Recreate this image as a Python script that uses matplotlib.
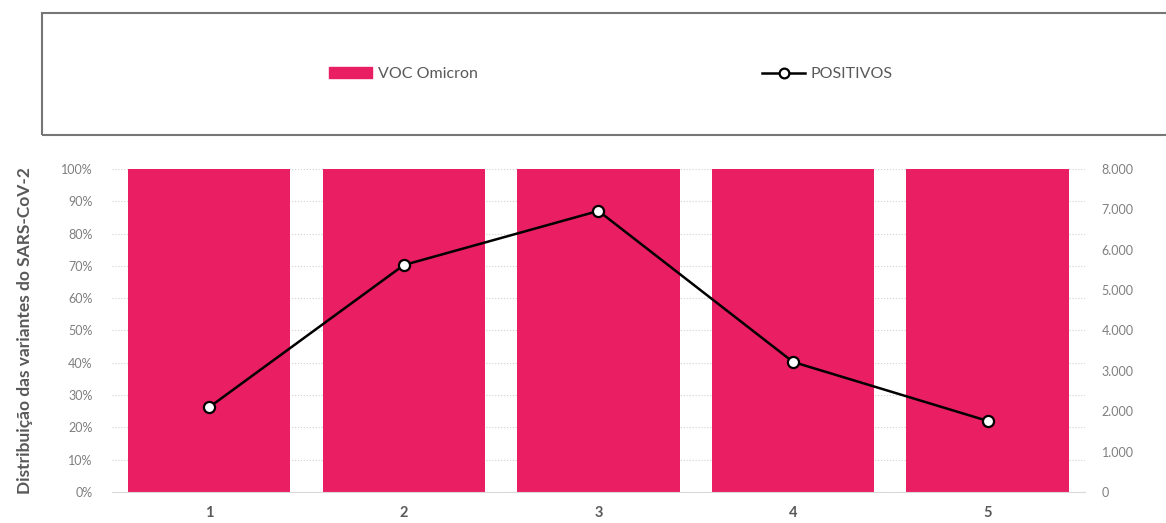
import matplotlib.pyplot as plt
from matplotlib.patches import Rectangle
from matplotlib.lines import Line2D
from matplotlib.ticker import FuncFormatter

plt.rcParams['font.family'] = ['Lato', 'DejaVu Sans']

# data
categories = ["1", "2", "3", "4", "5"]
omicron_pct = [100, 100, 100, 100, 100]
positivos = [2100, 5620, 6960, 3220, 1760]

bar_color = "#E91E63"
txt_grey = "#595959"
tick_grey = "#7f7f7f"

fig = plt.figure(figsize=(11.66, 5.23), dpi=100)
ax = fig.add_axes([0.096, 0.0593, 0.8345, 0.6177])
x = range(len(categories))

ax.bar(x, omicron_pct, width=0.835, color=bar_color, zorder=2)
ax.set_ylim(0, 100)
ax.set_xlim(-0.5, len(categories) - 0.5)
ax.set_yticks(range(0, 101, 10))
ax.yaxis.set_major_formatter(FuncFormatter(lambda v, p: f"{int(v)}%"))
ax.grid(axis="y", color="#d0d0d0", ls=":", lw=0.8, zorder=0)
ax.set_xticks(list(x))
ax.set_xticklabels(categories, fontweight="bold", color=txt_grey, fontsize=10.5)
ax.tick_params(axis="y", length=0, labelsize=9, labelcolor=tick_grey, pad=14)
ax.tick_params(axis="x", length=0, pad=10)
for s in ["top", "right", "left"]:
    ax.spines[s].set_visible(False)
ax.spines["bottom"].set_color("#d9d9d9")
ax.set_ylabel("Distribuição das variantes do SARS-CoV-2", fontsize=12.5,
              fontweight="bold", color=txt_grey, labelpad=20)

ax2 = ax.twinx()
ax2.plot(x, positivos, color="black", lw=1.8, marker="o", markersize=8,
         markerfacecolor="white", markeredgecolor="black", markeredgewidth=1.6, zorder=5)
ax2.set_ylim(0, 8000)
ax2.set_yticks(range(0, 8001, 1000))
ax2.yaxis.set_major_formatter(FuncFormatter(lambda v, p: f"{int(v):,}".replace(",", ".")))
ax2.tick_params(axis="y", length=0, labelsize=9, labelcolor=tick_grey, pad=12)
for s in ["top", "right", "left", "bottom"]:
    ax2.spines[s].set_visible(False)

# right axis title, mostly cut off by the figure edge as in the source
fig.text(1.005, 0.37, "Nº de casos positivos", rotation=90, fontsize=12.5,
         fontweight="bold", color=txt_grey, ha="left", va="center")

# legend frame
fig.patches.append(Rectangle((0.036, 0.742), 1.0, 0.233, transform=fig.transFigure,
                             fill=False, edgecolor="#767676", lw=1.5))
handles = [Rectangle((0, 0), 1, 1, color=bar_color),
           Line2D([], [], color="black", lw=1.8, marker="o", markersize=7,
                  markerfacecolor="white", markeredgecolor="black", markeredgewidth=1.6)]
fig.legend(handles, ["VOC Omicron", "POSITIVOS"], ncol=2, loc="center",
           bbox_to_anchor=(0.524, 0.858), frameon=False, fontsize=11.5,
           labelcolor=txt_grey, columnspacing=17.8, handlelength=2.7, handletextpad=0.35)

fig.savefig("out.png", dpi=100)
